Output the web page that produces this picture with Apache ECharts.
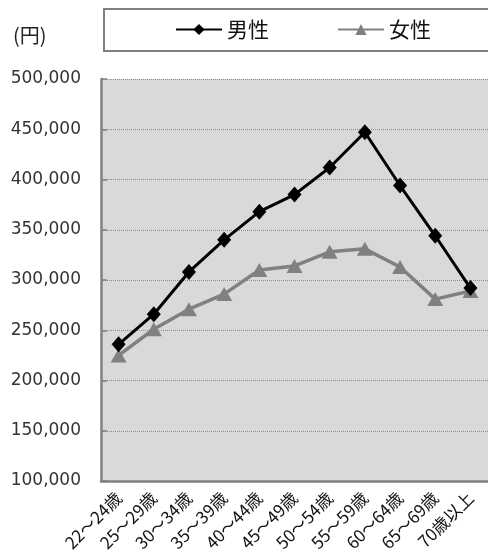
<!DOCTYPE html>
<html>
<head>
<meta charset="utf-8">
<script src="https://cdn.jsdelivr.net/npm/echarts@6/dist/echarts.min.js"></script>
<style>
  html, body { margin: 0; padding: 0; background: #fff; }
  #main { width: 488px; height: 558px; }
</style>
</head>
<body>
<div id="main"></div>
<script>
// 年齢階級
var categories = ['22～24歳', '25～29歳', '30～34歳', '35～39歳', '40～44歳', '45～49歳',
                  '50～54歳', '55～59歳', '60～64歳', '65～69歳', '70歳以上'];
// 男性・女性（円）
var maleValues   = [236000, 266000, 308000, 340000, 368000, 385000, 412000, 447000, 394000, 344000, 292000];
var femaleValues = [225000, 251000, 271000, 286000, 310000, 314000, 328000, 331000, 313000, 281000, 289000];
var yMin = 100000, yMax = 500000, yStep = 50000;

var font = '"DejaVu Sans", "Noto Sans CJK JP", sans-serif';
var jpFont = '"Noto Sans CJK JP", sans-serif';

var myChart = echarts.init(document.getElementById('main'));
var option = {
    backgroundColor: '#ffffff',
    animation: false,
    title: {
        text: '(円)',
        left: 8,
        top: 20,
        textStyle: { fontFamily: jpFont, fontSize: 20, fontWeight: 'normal', color: '#222' }
    },
    graphic: [{
        type: 'rect',
        z: -1,
        shape: { x: 104, y: 9, width: 420, height: 42 },
        style: { fill: '#fff', stroke: '#7f7f7f', lineWidth: 2 }
    }],
    legend: {
        left: 170,
        top: 14,
        itemWidth: 46,
        itemHeight: 14,
        itemGap: 68,
        textStyle: { fontFamily: jpFont, fontSize: 21, color: '#111' },
        data: ['男性', '女性']
    },
    grid: {
        left: 101,
        right: -1,
        top: 79,
        bottom: 77,
        show: true,
        backgroundColor: '#d9d9d9',
        borderWidth: 0
    },
    xAxis: {
        type: 'category',
        data: categories,
        boundaryGap: true,
        axisLine: { lineStyle: { color: '#808080', width: 2.5 } },
        axisTick: { inside: true, length: 5, lineStyle: { color: '#808080', width: 1.5 } },
        axisLabel: {
            rotate: 45,
            interval: 0,
            margin: 14,
            fontFamily: jpFont,
            fontSize: 17,
            color: '#111'
        }
    },
    yAxis: {
        type: 'value',
        min: yMin,
        max: yMax,
        interval: yStep,
        axisLine: { show: true, lineStyle: { color: '#808080', width: 2.5 } },
        axisTick: { show: true, inside: true, length: 6, lineStyle: { color: '#808080', width: 1.5 } },
        splitLine: { lineStyle: { color: '#8c8c8c', type: 'dotted', width: 1 } },
        axisLabel: {
            margin: 20,
            fontFamily: font,
            fontSize: 17,
            color: '#333',
            formatter: function (v) { return v.toLocaleString('en-US'); }
        }
    },
    series: [{
        name: '男性',
        type: 'line',
        data: maleValues,
        symbol: 'diamond',
        symbolSize: [14, 16],
        lineStyle: { color: '#000', width: 3 },
        itemStyle: { color: '#000' },
        z: 3
    }, {
        name: '女性',
        type: 'line',
        data: femaleValues,
        symbol: 'triangle',
        symbolSize: [16, 14],
        lineStyle: { color: '#808080', width: 3.5 },
        itemStyle: { color: '#808080' },
        z: 2
    }]
};
myChart.setOption(option);
window.onresize = function () {
    myChart.resize();
};
</script>
</body>
</html>
